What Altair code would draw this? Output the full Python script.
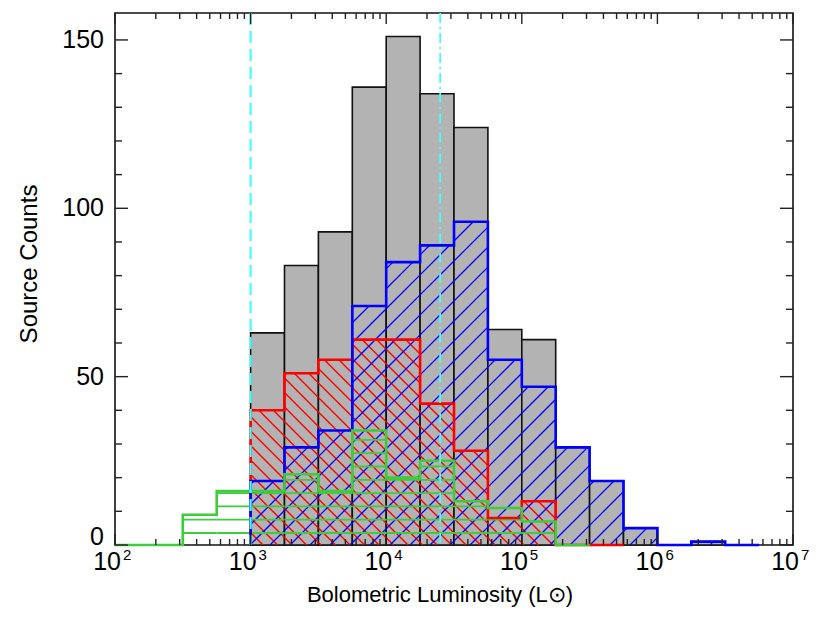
import math
import altair as alt
import pandas as pd

# ---------------- data ----------------
bin_width = 0.25                      # dex
total_start = 3.0                     # log10(L) of first gray bin
total_counts = [63, 83, 93, 136, 151, 134, 124, 64, 61, 29, 19, 5, 0, 1]
red_start = 3.0
red_counts = [40, 51, 55, 61, 61, 42, 28, 8, 13, 0, 0]
blue_start = 3.0
blue_counts = [19, 29, 34, 71, 84, 89, 96, 55, 47, 29, 19, 5, 0, 1, 0]
green_start = 2.0
green_counts = [0, 0, 9, 16, 16, 21, 16, 34, 20, 25, 13, 11, 7, 0]
limit_lines = [1e3, 2.5e4]            # cyan dashed / dash-dot
x_decades = [2, 3, 4, 5, 6, 7]
y_labels = [50, 100, 150]
y_major = [0, 50, 100, 150]
y_minor = [v for v in range(0, 160, 10) if v % 50 != 0]

# ---------------- layout / style ----------------
W, H = 678, 532
XMIN, XMAX = 2.0, 7.0
YMAX = 158
SX = W / (XMAX - XMIN)
SY = H / YMAX
FONT = "Liberation Sans"
GRAY = "#b3b3b3"
RED = "#ff0000"
BLUE = "#0000ff"
GREEN = "#3ccc3c"
CYAN = "#40ffff"

xs = alt.Scale(domain=[XMIN, XMAX], nice=False, zero=False)
ys = alt.Scale(domain=[0, YMAX], nice=False, zero=False)


def bars(start, counts):
    rows = []
    for i, c in enumerate(counts):
        lo = start + i * bin_width
        rows.append({"lo": lo, "hi": lo + bin_width, "c": c})
    return pd.DataFrame(rows)


def outline(start, counts):
    rows = [(start, 0)]
    for i, c in enumerate(counts):
        lo = start + i * bin_width
        rows.append((lo, c))
        rows.append((lo + bin_width, c))
    rows.append((start + len(counts) * bin_width, 0))
    return pd.DataFrame([{"x": x, "y": y, "o": k} for k, (x, y) in enumerate(rows)])


def hatch(start, counts, kind, spacing, phase=0.0):
    segs = []
    for i, c in enumerate(counts):
        if c <= 0:
            continue
        a = start + i * bin_width
        b = a + bin_width
        ua, ub, vc = (a - XMIN) * SX, (b - XMIN) * SX, c * SY
        if kind == "h":
            k = 0
            while True:
                v = phase + k * spacing
                if v >= vc - 0.5:
                    break
                if v > 0.5:
                    segs.append((a, v / SY, b, v / SY))
                k += 1
            continue
        if kind == "/":
            c_lo, c_hi = -ub, vc - ua
        else:
            c_lo, c_hi = ua, vc + ub
        k = math.ceil((c_lo - phase) / spacing)
        while phase + k * spacing <= c_hi:
            c0 = phase + k * spacing
            if kind == "/":
                u1, u2 = max(ua, -c0), min(ub, vc - c0)
                if u2 - u1 > 0.3:
                    segs.append((XMIN + u1 / SX, (u1 + c0) / SY, XMIN + u2 / SX, (u2 + c0) / SY))
            else:
                u1, u2 = max(ua, c0 - vc), min(ub, c0)
                if u2 - u1 > 0.3:
                    segs.append((XMIN + u1 / SX, (c0 - u1) / SY, XMIN + u2 / SX, (c0 - u2) / SY))
            k += 1
    return pd.DataFrame(segs, columns=["x", "y", "x2", "y2"])


def hatch_layer(df, color, sw=1.3):
    return alt.Chart(df).mark_rule(color=color, strokeWidth=sw).encode(
        x=alt.X("x:Q", scale=xs, axis=None), y=alt.Y("y:Q", scale=ys, axis=None),
        x2="x2:Q", y2="y2:Q")


def outline_layer(df, color):
    return alt.Chart(df).mark_line(color=color, strokeWidth=2.6, interpolate="linear",
                                   strokeJoin="miter", clip=False).encode(
        x=alt.X("x:Q", scale=xs, axis=None), y=alt.Y("y:Q", scale=ys, axis=None),
        order="o:Q")


gray = alt.Chart(bars(total_start, total_counts)).mark_rect(
    fill=GRAY, stroke="#111111", strokeWidth=1.6).encode(
    x=alt.X("lo:Q", scale=xs, axis=None), x2="hi:Q",
    y=alt.Y("c:Q", scale=ys, axis=None), y2=alt.datum(0))

red_h = hatch_layer(hatch(red_start, red_counts, "\\", 14.5, 3.0), RED, 1.4)
blue_h = hatch_layer(hatch(blue_start, blue_counts, "/", 20.0, 5.0), BLUE, 1.3)
green_h = hatch_layer(hatch(green_start, green_counts, "h", 13.3, 12.0), GREEN, 1.8)

red_o = outline_layer(outline(red_start, red_counts), RED)
blue_o = outline_layer(outline(blue_start, blue_counts), BLUE)
green_o = outline_layer(outline(green_start, green_counts), GREEN)

lim_df = pd.DataFrame({"x": [math.log10(v) for v in limit_lines], "k": ["a", "b"]})
cyan1 = alt.Chart(lim_df[lim_df.k == "a"]).mark_rule(
    color=CYAN, strokeWidth=2.2, strokeDash=[12, 6]).encode(
    x=alt.X("x:Q", scale=xs, axis=None), y=alt.value(0), y2=alt.value(H))
cyan2 = alt.Chart(lim_df[lim_df.k == "b"]).mark_rule(
    color=CYAN, strokeWidth=1.8, strokeDash=[10, 4, 2, 4]).encode(
    x=alt.X("x:Q", scale=xs, axis=None), y=alt.value(0), y2=alt.value(H))

# ticks (inward, IDL style)
xmaj = pd.DataFrame({"x": x_decades})
xmin_df = pd.DataFrame({"x": [d + math.log10(k) for d in x_decades[:-1] for k in range(2, 10)]})
ymaj = pd.DataFrame({"y": y_major})
ymin_df = pd.DataFrame({"y": y_minor})
TK = "#222222"


def xticks(df, ln):
    b = alt.Chart(df).mark_rule(color=TK, strokeWidth=1.4).encode(
        x=alt.X("x:Q", scale=xs, axis=None), y=alt.value(H), y2=alt.value(H - ln))
    t = alt.Chart(df).mark_rule(color=TK, strokeWidth=1.4).encode(
        x=alt.X("x:Q", scale=xs, axis=None), y=alt.value(0), y2=alt.value(ln))
    return [b, t]


def yticks(df, ln):
    l = alt.Chart(df).mark_rule(color=TK, strokeWidth=1.4).encode(
        y=alt.Y("y:Q", scale=ys, axis=None), x=alt.value(0), x2=alt.value(ln))
    r = alt.Chart(df).mark_rule(color=TK, strokeWidth=1.4).encode(
        y=alt.Y("y:Q", scale=ys, axis=None), x=alt.value(W), x2=alt.value(W - ln))
    return [l, r]


tick_layers = xticks(xmaj, 11) + xticks(xmin_df, 6) + yticks(ymaj, 13) + yticks(ymin_df, 7)

# tick labels
xlab = pd.DataFrame({"x": x_decades, "base": ["10"] * len(x_decades),
                     "exp": [str(d) for d in x_decades]})
xl_base = alt.Chart(xlab).mark_text(font=FONT, fontSize=25, align="right", baseline="top",
                                    dx=6, color="black").encode(
    x=alt.X("x:Q", scale=xs, axis=None), y=alt.value(H + 5), text="base:N")
xl_exp = alt.Chart(xlab).mark_text(font=FONT, fontSize=15, align="left", baseline="top",
                                   dx=8, color="black").encode(
    x=alt.X("x:Q", scale=xs, axis=None), y=alt.value(H + 3), text="exp:N")

ylab = pd.DataFrame({"y": y_labels, "t": [str(v) for v in y_labels]})
yl = alt.Chart(ylab).mark_text(font=FONT, fontSize=25, align="right", baseline="middle",
                               dx=-11, color="black").encode(
    y=alt.Y("y:Q", scale=ys, axis=None), x=alt.value(0), text="t:N")
yl0 = alt.Chart(pd.DataFrame({"y": [0], "t": ["0"]})).mark_text(
    font=FONT, fontSize=25, align="right", baseline="alphabetic", dx=-11,
    color="black").encode(y=alt.Y("y:Q", scale=ys, axis=None), x=alt.value(0), text="t:N")

xtitle = alt.Chart(pd.DataFrame({"t": ["Bolometric Luminosity  (L\u2299)"]})).mark_text(
    font=FONT, fontSize=22, align="center", baseline="top", color="black").encode(
    x=alt.value(325), y=alt.value(H + 40), text="t:N")
ytitle = alt.Chart(pd.DataFrame({"t": ["Source Counts"]})).mark_text(
    font=FONT, fontSize=24, align="center", baseline="middle", angle=270,
    color="black").encode(x=alt.value(-85), y=alt.value(251), text="t:N")

chart = alt.layer(
    gray, red_h, blue_h, green_h, red_o, blue_o, green_o, cyan1, cyan2,
    *tick_layers, xl_base, xl_exp, yl, yl0, xtitle, ytitle
).properties(
    width=W, height=H, autosize="none",
    padding={"left": 115, "top": 13, "right": 29, "bottom": 80}
).configure_view(stroke="#111111", strokeWidth=1.6)

chart.save("out.html", embed_options={"renderer": "svg", "actions": False})
